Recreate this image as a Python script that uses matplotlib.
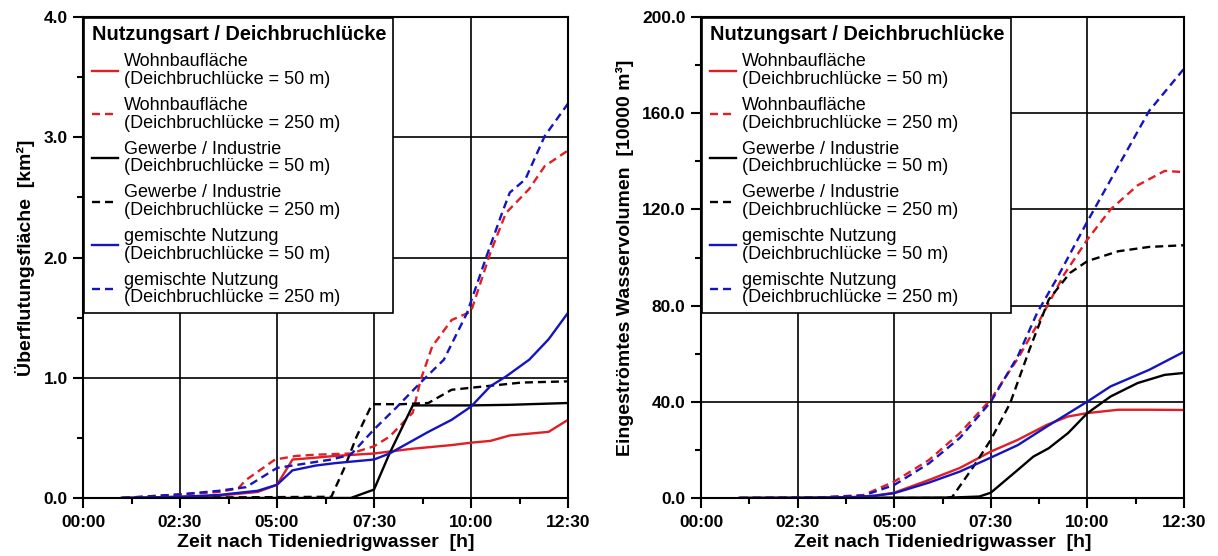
import numpy as np
import matplotlib
matplotlib.use('Agg')
import matplotlib.pyplot as plt
from matplotlib.ticker import MultipleLocator, FuncFormatter

plt.rcParams['font.family'] = ['Liberation Sans', 'DejaVu Sans']

# Left panel: Ueberflutungsflaeche [km^2] over time [h]
areaWohn50_t = [1.0, 2.5, 3.5, 4.5, 5.0, 5.4, 5.8, 6.5, 7.5, 8.5, 9.5, 10.0, 10.5, 11.0, 12.0, 12.5]
areaWohn50_v = [0.0, 0.01, 0.02, 0.05, 0.11, 0.32, 0.33, 0.35, 0.37, 0.41, 0.44, 0.46, 0.475, 0.52, 0.55, 0.65]
areaWohn250_t = [1.0, 2.5, 3.5, 4.0, 4.2, 4.95, 5.5, 6.0, 6.9, 7.5, 7.9, 8.5, 8.7, 9.0, 9.5, 10.0, 10.5, 10.9, 11.5, 11.9, 12.5]
areaWohn250_v = [0.0, 0.03, 0.05, 0.08, 0.15, 0.32, 0.35, 0.36, 0.37, 0.43, 0.51, 0.71, 0.98, 1.26, 1.48, 1.55, 2.04, 2.37, 2.57, 2.76, 2.89]
areaGew50_t = [1.0, 6.9, 7.5, 7.9, 8.2, 8.5, 10.0, 11.0, 12.5]
areaGew50_v = [0.0, 0.0, 0.07, 0.37, 0.57, 0.77, 0.77, 0.775, 0.79]
areaGew250_t = [1.0, 6.4, 6.75, 7.05, 7.45, 8.2, 8.9, 9.5, 10.4, 11.3, 12.5]
areaGew250_v = [0.0, 0.01, 0.26, 0.51, 0.78, 0.78, 0.79, 0.90, 0.93, 0.96, 0.97]
areaMix50_t = [1.0, 2.5, 3.5, 4.5, 5.0, 5.4, 6.0, 6.5, 7.5, 7.9, 8.4, 8.9, 9.5, 10.0, 10.5, 10.9, 11.5, 12.0, 12.5]
areaMix50_v = [0.0, 0.01, 0.025, 0.06, 0.11, 0.23, 0.27, 0.29, 0.32, 0.37, 0.46, 0.55, 0.65, 0.76, 0.93, 1.01, 1.15, 1.32, 1.54]
areaMix250_t = [1.0, 2.5, 3.5, 4.2, 5.0, 6.4, 6.9, 7.5, 8.1, 8.7, 9.3, 9.9, 10.4, 10.8, 11.0, 11.4, 11.9, 12.5]
areaMix250_v = [0.0, 0.03, 0.06, 0.09, 0.25, 0.32, 0.36, 0.57, 0.76, 0.96, 1.15, 1.54, 2.01, 2.37, 2.54, 2.65, 3.01, 3.28]

# Right panel: Eingestroemtes Wasservolumen [10000 m^3]
volWohn50_t = [1.0, 3.0, 4.0, 4.5, 5.0, 5.9, 6.7, 7.5, 8.2, 8.95, 9.5, 10.0, 10.8, 11.6, 12.5]
volWohn50_v = [0.0, 0.1, 0.4, 1.0, 2.2, 7.5, 12.5, 19.3, 24.2, 30.4, 33.9, 35.3, 36.7, 36.7, 36.6]
volWohn250_t = [1.0, 3.0, 4.2, 5.0, 5.9, 6.7, 7.5, 8.2, 8.7, 9.0, 9.4, 10.0, 10.6, 11.3, 12.0, 12.5]
volWohn250_v = [0.0, 0.2, 1.2, 6.8, 15.8, 27.0, 41.0, 58.0, 72.0, 81.0, 93.0, 107.5, 120.0, 130.0, 136.0, 135.5]
volGew50_t = [1.0, 6.5, 7.2, 7.5, 8.2, 8.6, 9.0, 9.5, 10.0, 10.6, 11.3, 12.0, 12.5]
volGew50_v = [0.0, 0.2, 0.6, 2.2, 11.7, 17.2, 20.7, 27.0, 35.3, 42.2, 47.8, 51.2, 52.0]
volGew250_t = [1.0, 6.3, 6.5, 7.05, 7.5, 8.0, 8.5, 9.0, 9.55, 10.0, 10.8, 11.6, 12.5]
volGew250_v = [0.0, 0.0, 0.4, 13.0, 24.2, 39.4, 61.7, 82.5, 93.6, 98.5, 102.6, 104.4, 105.1]
volMix50_t = [1.0, 3.0, 4.0, 4.5, 5.0, 5.9, 6.7, 7.5, 8.2, 8.95, 10.0, 10.6, 11.6, 12.5]
volMix50_v = [0.0, 0.1, 0.4, 0.9, 2.0, 6.4, 11.0, 16.8, 22.0, 29.7, 40.1, 46.4, 53.3, 60.8]
volMix250_t = [1.0, 3.0, 4.2, 5.0, 5.9, 6.7, 7.5, 8.2, 8.7, 9.2, 10.0, 10.8, 11.6, 12.5]
volMix250_v = [0.0, 0.2, 1.0, 5.4, 14.4, 25.0, 40.0, 59.0, 77.0, 91.0, 115.0, 138.0, 161.0, 178.5]

labels = ['Wohnbaufläche\n(Deichbruchlücke = 50 m)',
          'Wohnbaufläche\n(Deichbruchlücke = 250 m)',
          'Gewerbe / Industrie\n(Deichbruchlücke = 50 m)',
          'Gewerbe / Industrie\n(Deichbruchlücke = 250 m)',
          'gemischte Nutzung\n(Deichbruchlücke = 50 m)',
          'gemischte Nutzung\n(Deichbruchlücke = 250 m)']
xTicks = [0, 2.5, 5.0, 7.5, 10.0, 12.5]

red = '#e01e24'
blue = '#1414c0'
styles = [(red, '-'), (red, '--'), ('black', '-'), ('black', '--'), (blue, '-'), (blue, '--')]

areaSeries = [(areaWohn50_t, areaWohn50_v), (areaWohn250_t, areaWohn250_v),
              (areaGew50_t, areaGew50_v), (areaGew250_t, areaGew250_v),
              (areaMix50_t, areaMix50_v), (areaMix250_t, areaMix250_v)]
volSeries = [(volWohn50_t, volWohn50_v), (volWohn250_t, volWohn250_v),
             (volGew50_t, volGew50_v), (volGew250_t, volGew250_v),
             (volMix50_t, volMix50_v), (volMix250_t, volMix250_v)]


def hhmm(x, pos):
    minutes = int(round(x * 60))
    return '%02d:%02d' % (minutes // 60, minutes % 60)


fig = plt.figure(figsize=(12.18, 5.56), dpi=100)
axL = fig.add_axes([83 / 1218, 58 / 556, 485 / 1218, 481 / 556])
axR = fig.add_axes([701 / 1218, 58 / 556, 483 / 1218, 481 / 556])


def draw(ax, series, ymax, ystep, ylabel):
    for (t, v), (c, ls), lab in zip(series, styles, labels):
        line, = ax.plot(t, v, color=c, linestyle=ls, lw=1.7, label=lab)
        if ls == '--':
            line.set_dashes((3.4, 2.1))
    ax.set_xlim(0, 12.5)
    ax.set_ylim(0, ymax)
    ax.set_xticks(xTicks)
    ax.xaxis.set_minor_locator(MultipleLocator(1.25))
    ax.yaxis.set_major_locator(MultipleLocator(ystep))
    ax.yaxis.set_minor_locator(MultipleLocator(ystep / 2))
    ax.xaxis.set_major_formatter(FuncFormatter(hhmm))
    ax.yaxis.set_major_formatter(FuncFormatter(lambda y, p: '%.1f' % y))
    ax.grid(True, which='major', color='black', lw=1.2)
    ax.set_axisbelow(True)
    for s in ax.spines.values():
        s.set_linewidth(1.5)
    ax.tick_params(which='major', length=7, width=1.5, direction='out')
    ax.tick_params(which='minor', length=4, width=1.5, direction='out')
    ax.tick_params(axis='x', labelsize=12.5, pad=5)
    ax.tick_params(axis='y', labelsize=12.5, pad=4)
    for tl in ax.get_xticklabels() + ax.get_yticklabels():
        tl.set_fontweight('bold')
    ax.set_xlabel('Zeit nach Tideniedrigwasser  [h]', fontsize=14, fontweight='bold', labelpad=3)
    ax.set_ylabel(ylabel, fontsize=14, fontweight='bold', labelpad=6)
    leg = ax.legend(loc='upper left', bbox_to_anchor=(0.003, 0.998), borderaxespad=0.0,
                    title='Nutzungsart / Deichbruchlücke',
                    title_fontproperties={'weight': 'bold', 'size': 14.4},
                    fontsize=13, handlelength=1.45, handletextpad=0.35,
                    labelspacing=0.5, borderpad=0.4, fancybox=False,
                    framealpha=1, alignment='left')
    for txt in leg.get_texts():
        txt.set_linespacing(1.05)
    leg.get_frame().set_edgecolor('black')
    leg.get_frame().set_linewidth(1.2)


draw(axL, areaSeries, 4.0, 1.0, 'Überflutungsfläche  [km²]')
draw(axR, volSeries, 200.0, 40.0, 'Eingeströmtes Wasservolumen  [10000 m³]')

fig.savefig('out.png', dpi=100)
